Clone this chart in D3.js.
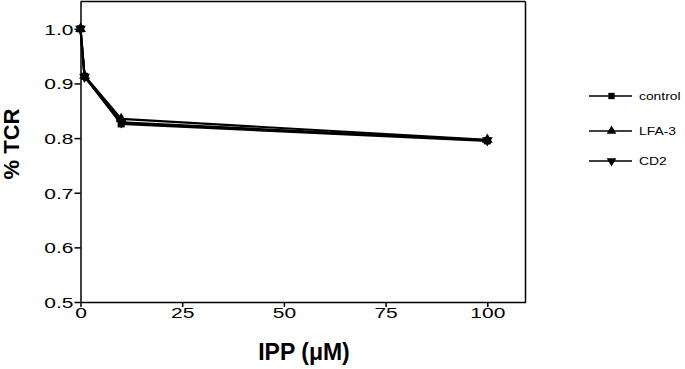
<!DOCTYPE html>
<html>
<head>
<meta charset="utf-8">
<script src="https://cdn.jsdelivr.net/npm/d3@7"></script>
<style>
  body { margin: 0; background: #fff; }
  svg { font-family: "Liberation Sans", Arial, Helvetica, sans-serif; }
</style>
</head>
<body>
<div id="chart"></div>
<script>
// data
const doses = [0, 1, 10, 100];
const control = [1.0, 0.913, 0.826, 0.795];
const lfa3 = [1.0, 0.914, 0.835, 0.797];
const cd2 = [1.0, 0.912, 0.829, 0.796];
const xTicks = [0, 25, 50, 75, 100];
const yTicks = [0.5, 0.6, 0.7, 0.8, 0.9, 1.0];

const series = [
	{ name: "CD2", values: cd2, symbol: "down" },
	{ name: "LFA-3", values: lfa3, symbol: "up" },
	{ name: "control", values: control, symbol: "square" }
];
const legendOrder = ["control", "LFA-3", "CD2"];

const width = 685;
const height = 369;
const stretch = 1.4; // the figure's lettering is wide

const svg = d3.select("#chart")
	.append("svg")
		.attr("width", width)
		.attr("height", height);

const x = d3.scaleLinear()
	.domain([0, 100])
	.range([80.5, 487.3]);
const xMax = x.invert(525.5);
const y = d3.scaleLinear()
	.domain([0.5, 1.05])
	.range([302, 1.5]);

// symbols
const symbolPath = (kind, size) => {
	if (kind == "square") return d3.symbol(d3.symbolSquare, size)();
	return d3.symbol(d3.symbolTriangle, size)();
};
const symbolRotate = (kind) => kind == "down" ? "rotate(180)" : "";

// frame: top and right
svg.append("line")
	.attr("x1", x(0)).attr("x2", x(xMax))
	.attr("y1", y(1.05)).attr("y2", y(1.05))
	.style("stroke", "#000").style("stroke-width", 1.5);
svg.append("line")
	.attr("x1", x(xMax)).attr("x2", x(xMax))
	.attr("y1", y(1.05)).attr("y2", y(0.5))
	.style("stroke", "#000").style("stroke-width", 1.5);

// axes
const xAxis = svg.append("g")
	.attr("transform", `translate(0,${y(0.5)})`)
	.call(d3.axisBottom(x.copy().domain([0, xMax]).range([x(0), x(xMax)]))
		.tickValues(xTicks)
		.tickSize(5)
		.tickSizeOuter(0)
		.tickPadding(0));
const yAxis = svg.append("g")
	.attr("transform", `translate(${x(0)},0)`)
	.call(d3.axisLeft(y)
		.tickValues(yTicks)
		.tickFormat(d3.format(".1f"))
		.tickSize(6)
		.tickSizeOuter(0)
		.tickPadding(1));

[xAxis, yAxis].forEach((a) => {
	a.select(".domain").style("stroke", "#000").style("stroke-width", 1.5);
	a.selectAll(".tick line").style("stroke", "#000").style("stroke-width", 1.5);
	a.selectAll(".tick text")
		.style("font-size", "15px")
		.style("fill", "#000")
		.style("font-family", "\"Liberation Sans\", Arial, sans-serif")
		.attr("transform", `scale(${stretch},1)`);
});
yAxis.selectAll(".tick text")
	.attr("x", -7 / stretch)
	.attr("dy", "0.36em");

// axis titles
svg.append("text")
	.text("IPP (\u03bcM)")
	.attr("x", 304)
	.attr("y", 360)
	.attr("text-anchor", "middle")
	.style("font-size", "23px")
	.style("font-weight", "bold");
svg.append("text")
	.text("% TCR")
	.attr("transform", "translate(19,144) rotate(-90)")
	.attr("text-anchor", "middle")
	.style("font-size", "22px")
	.style("font-weight", "bold");

// lines
const line = d3.line()
	.x((d) => x(d.dose))
	.y((d) => y(d.val));

series.forEach((s) => {
	const pts = doses.map((dose, i) => ({ dose: dose, val: s.values[i] }));
	svg.append("path")
		.datum(pts)
		.style("fill", "none")
		.style("stroke", "#000")
		.style("stroke-width", 2.2)
		.attr("d", line);
	svg.selectAll(null)
		.data(pts)
		.enter()
		.append("path")
			.attr("d", symbolPath(s.symbol, 50))
			.attr("transform", (d) => `translate(${x(d.dose)},${y(d.val)}) ${symbolRotate(s.symbol)}`)
			.style("fill", "#000");
});

// legend
const legendY = [96, 131, 161];
legendOrder.forEach((name, i) => {
	const s = series.find((d) => d.name == name);
	const g = svg.append("g")
		.attr("transform", `translate(589,${legendY[i]})`);
	g.append("line")
		.attr("x1", 0).attr("x2", 43)
		.style("stroke", "#000").style("stroke-width", 1.5);
	g.append("path")
		.attr("d", symbolPath(s.symbol, 40))
		.attr("transform", `translate(22.5,0) ${symbolRotate(s.symbol)}`)
		.style("fill", "#000");
	g.append("text")
		.text(name)
		.attr("transform", "translate(50,0) scale(1.26,1)")
		.attr("dy", "0.36em")
		.style("font-size", "11px");
});
</script>
</body>
</html>
